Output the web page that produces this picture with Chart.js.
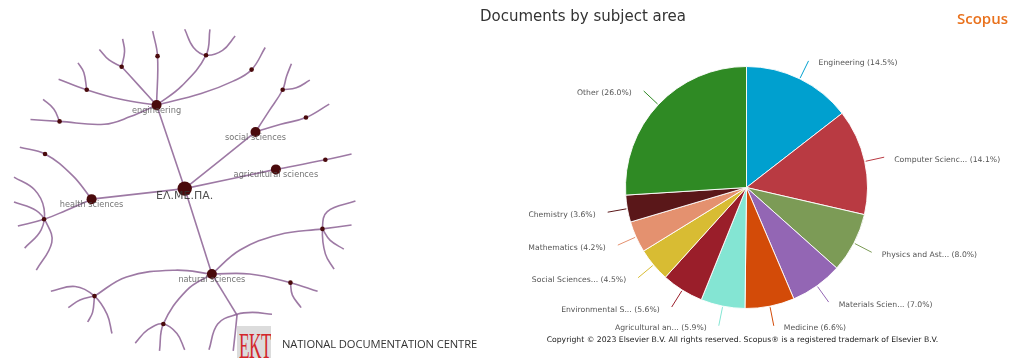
<!DOCTYPE html>
<html>
<head>
<meta charset="utf-8">
<script src="https://cdn.jsdelivr.net/npm/chart.js@4.4.1/dist/chart.umd.min.js"></script>
<style>
  html, body { margin: 0; padding: 0; background: #fff; }
  body { width: 1010px; height: 358px; position: relative; overflow: hidden; }
  #tree { position: absolute; left: 0; top: 0; }
  #pie { position: absolute; left: 480px; top: 0; }
  .title { position: absolute; left: 480px; top: 7px; font: 15px "DejaVu Sans", sans-serif; color: #333; }
  .brand { position: absolute; left: 957px; top: 8px; font: 600 15px "Open Sans", sans-serif; color: #e9711c; }
  .copy { position: absolute; left: 480px; width: 525px; top: 335px; text-align: center; font: 7.7px "DejaVu Sans", sans-serif; color: #222; }
  .logo { position: absolute; left: 237px; top: 326px; width: 34px; height: 32px; background: #dcdcdc; overflow: hidden; }
  .logo span { position: absolute; left: 2px; top: -1px; font: 36px "Liberation Serif", serif; color: #d3272b; transform: scaleX(0.48); transform-origin: 0 0; letter-spacing: -1px; }
  .ekt { position: absolute; left: 282px; top: 336px; font: 11.2px "Open Sans", sans-serif; color: #333; letter-spacing: -0.1px; }
</style>
</head>
<body>
<canvas id="tree" width="480" height="358"></canvas>
<canvas id="pie" width="530" height="358"></canvas>
<div class="title">Documents by subject area</div>
<div class="brand">Scopus</div>
<div class="copy">Copyright © 2023 Elsevier B.V. All rights reserved. Scopus® is a registered trademark of Elsevier B.V.</div>
<div class="logo"><span>EKT</span></div>
<div class="ekt">NATIONAL DOCUMENTATION CENTRE</div>
<script>
// Pie: documents by subject area (share in %)
const subjects = ["Engineering", "Computer Scienc...", "Physics and Ast...", "Materials Scien...", "Medicine",
  "Agricultural an...", "Environmental S...", "Social Sciences...", "Mathematics", "Chemistry", "Other"]
const shares = [14.5, 14.1, 8.0, 7.0, 6.6, 5.9, 5.6, 4.5, 4.2, 3.6, 26.0]
const sliceColors = ["#00a0cf", "#b93a42", "#7c9b56", "#9366b4", "#d34b08", "#84e5d3",
  "#9a1e2a", "#d8bc33", "#e4916f", "#5a1719", "#2f8a24"]

// Tree: nodes (x, y in a 480 x 358 plane), level 0 = root, 1 = field, 2 = leaf
const nodeX = [183, 154, 256, 277, 87, 211, 155, 118, 82, 54, 205, 252, 284, 308, 328, 39, 38, 325, 292, 90, 161]
const nodeY = [189, 102, 130, 169, 200, 278, 51, 62, 86, 119, 50, 65, 86, 115, 159, 153, 221, 231, 287, 301, 330]
const nodeLevel = [0, 1, 1, 1, 1, 1, 2, 2, 2, 2, 2, 2, 2, 2, 2, 2, 2, 2, 2, 2, 2]
const nodeNames = ["ΕΛ.ΜΕ.ΠΑ.", "engineering", "social sciences", "agricultural sciences", "health sciences", "natural sciences"]

// Tree branches, each a list of [x, y] points
const branches = [
  [[183, 189], [154, 102]],
  [[183, 189], [256, 130]],
  [[183, 189], [277, 169]],
  [[183, 189], [87, 200]],
  [[183, 189], [211, 278]],
  // engineering
  [[154, 102], [155, 51], [150, 25]],
  [[154, 102], [136, 82], [118, 62]],
  [[118, 62], [121, 46], [119, 33]],
  [[118, 62], [105, 55], [95, 44]],
  [[154, 102], [117, 96], [82, 86], [53, 75]],
  [[82, 86], [79, 68], [73, 58]],
  [[154, 102], [127, 114], [100, 122], [54, 119], [24, 117]],
  [[54, 119], [48, 106], [37, 96]],
  [[154, 102], [180, 82], [205, 50], [209, 23]],
  [[183, 23], [192, 42], [205, 50], [222, 45], [235, 30]],
  [[154, 102], [200, 90], [233, 77], [252, 65], [266, 42]],
  // social sciences
  [[256, 130], [270, 108], [284, 86], [288, 72], [293, 59]],
  [[284, 86], [298, 84], [312, 76]],
  [[256, 130], [282, 122], [308, 115], [332, 101]],
  // agricultural sciences
  [[277, 169], [328, 159], [355, 153]],
  // health sciences
  [[87, 200], [67, 175], [39, 153], [13, 146]],
  [[87, 200], [60, 212], [38, 221], [11, 228]],
  [[7, 177], [28, 190], [38, 210], [35, 232], [18, 251]],
  [[7, 203], [30, 212], [40, 224], [46, 245], [30, 274]],
  // natural sciences
  [[211, 278], [237, 321]],
  [[211, 278], [240, 253], [280, 237], [325, 231], [355, 227]],
  [[359, 202], [330, 213], [325, 231], [328, 257], [337, 273]],
  [[325, 231], [333, 243], [347, 252]],
  [[211, 278], [250, 278], [292, 287], [320, 296]],
  [[292, 287], [294, 300], [303, 313]],
  [[211, 278], [173, 274], [123, 281], [90, 301]],
  [[45, 296], [70, 291], [90, 301], [103, 320], [108, 340]],
  [[63, 313], [75, 305], [90, 301]],
  [[90, 301], [88, 318], [83, 328]],
  [[211, 278], [185, 295], [161, 330], [157, 358]],
  [[132, 350], [145, 336], [161, 330], [175, 340], [183, 357]],
  [[208, 357], [217, 330], [237, 320], [253, 318], [273, 320]],
  [[237, 320], [235, 340], [233, 358]]
]

const levelRadius = [7.2, 5, 2.3]

// Labels under the named tree nodes
const nodeLabels = {
  id: "nodeLabels",
  afterDatasetsDraw(chart) {
    const { ctx, scales } = chart
    ctx.save()
    ctx.textAlign = "center"
    ctx.textBaseline = "middle"
    nodeNames.forEach((name, i) => {
      const px = scales.x.getPixelForValue(nodeX[i])
      const py = scales.y.getPixelForValue(nodeY[i])
      if (i === 0) {
        ctx.font = '11px "DejaVu Sans"'
        ctx.fillStyle = "rgba(50, 50, 50, 0.85)"
        ctx.fillText(name, px, py + 8)
      } else {
        ctx.font = '8.2px "DejaVu Sans"'
        ctx.fillStyle = "rgba(80, 80, 80, 0.8)"
        ctx.fillText(name, px, py + 5.5)
      }
    })
    ctx.restore()
  }
}

// nodes first so they are drawn on top of the branches
const treeDatasets = [{
  type: "scatter",
  data: nodeX.map((x, i) => ({ x: x, y: nodeY[i] })),
  pointRadius: nodeLevel.map(l => levelRadius[l]),
  pointBackgroundColor: "#4a0a0c",
  pointBorderWidth: 0
}]
branches.forEach(pts => treeDatasets.push({
  type: "line",
  data: pts.map(p => ({ x: p[0], y: p[1] })),
  borderColor: "rgba(140, 98, 148, 0.85)",
  borderWidth: 1.6,
  pointRadius: 0,
  tension: 0.4,
  fill: false
}))

new Chart(document.getElementById("tree"), {
  type: "scatter",
  data: { datasets: treeDatasets },
  options: {
    responsive: false,
    devicePixelRatio: 1,
    animation: false,
    clip: false,
    layout: { padding: 0 },
    plugins: { legend: { display: false }, tooltip: { enabled: false } },
    scales: {
      x: { display: false, min: 0, max: 480 },
      y: { display: false, min: 0, max: 358, reverse: true }
    }
  },
  plugins: [nodeLabels]
})

// Connector lines and labels around the pie
const sliceLabels = {
  id: "sliceLabels",
  afterDatasetsDraw(chart) {
    const ctx = chart.ctx
    const meta = chart.getDatasetMeta(0)
    ctx.save()
    ctx.font = '7.7px "DejaVu Sans"'
    ctx.textBaseline = "middle"
    meta.data.forEach((arc, i) => {
      const { x, y, startAngle, endAngle, outerRadius } =
        arc.getProps(["x", "y", "startAngle", "endAngle", "outerRadius"], true)
      const mid = (startAngle + endAngle) / 2
      const cos = Math.cos(mid)
      const sin = Math.sin(mid)
      const x1 = x + cos * (outerRadius + 1)
      const y1 = y + sin * (outerRadius + 1)
      const x2 = x + cos * (outerRadius + 20)
      const y2 = y + sin * (outerRadius + 20)
      ctx.strokeStyle = sliceColors[i]
      ctx.lineWidth = 1
      ctx.beginPath()
      ctx.moveTo(x1, y1)
      ctx.lineTo(x2, y2)
      ctx.stroke()
      const right = cos >= 0
      ctx.textAlign = right ? "left" : "right"
      ctx.fillStyle = "#555"
      ctx.fillText(subjects[i] + " (" + shares[i].toFixed(1) + "%)", x2 + (right ? 10 : -12), y2 + 2.5)
    })
    ctx.restore()
  }
}

new Chart(document.getElementById("pie"), {
  type: "pie",
  data: {
    labels: subjects,
    datasets: [{
      data: shares,
      backgroundColor: sliceColors,
      borderColor: "rgba(255, 255, 255, 0.9)",
      borderWidth: 1
    }]
  },
  options: {
    responsive: false,
    devicePixelRatio: 1,
    animation: false,
    layout: { padding: { left: 145, right: 142, top: 66, bottom: 49 } },
    plugins: { legend: { display: false }, tooltip: { enabled: false } }
  },
  plugins: [sliceLabels]
})
</script>
</body>
</html>
